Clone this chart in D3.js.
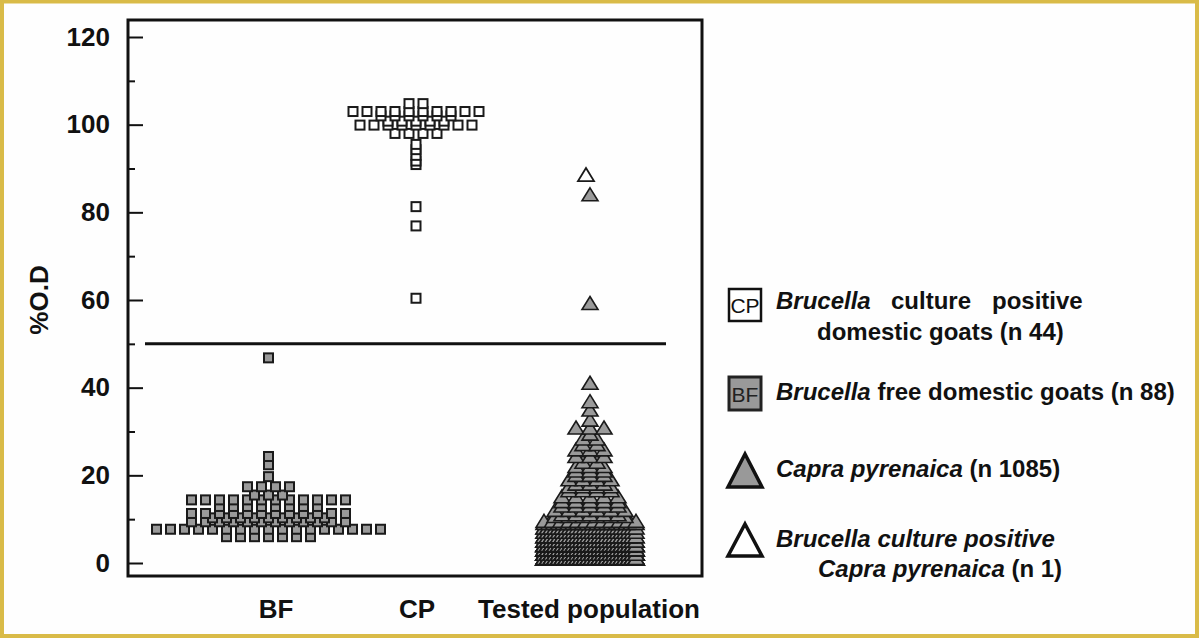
<!DOCTYPE html>
<html><head><meta charset="utf-8">
<script src="https://cdn.jsdelivr.net/npm/d3@7"></script>
<style>
body{margin:0;background:#fff}
svg{display:block}
text{font-family:"Liberation Sans",Arial,Helvetica,sans-serif}
</style>
</head><body>
<svg id="c" width="1200" height="638"></svg>
<script>
// ---------- data ----------
const categories = ["BF", "CP", "Tested population"];
const yTicks = [0, 20, 40, 60, 80, 100, 120];
const yMinorTicks = [10, 30, 50, 70, 90, 110];
const threshold = 50;

// Brucella free domestic goats (n 88): value levels and number of animals at each level
const bfLevels = [46.8, 24.3, 22.4, 19.7, 17.4, 15.5, 14.4, 12.9, 11.3, 10.3, 9.4, 7.7, 6.0];
const bfCounts = [1, 1, 1, 1, 4, 3, 12, 8, 12, 9, 12, 17, 7];

// Brucella culture positive domestic goats (n 44)
const cpLevels = [104.8, 103.0, 102.0, 100.8, 99.9, 98.0, 95.5, 94.3, 93.0, 91.7, 90.9, 81.3, 76.9, 60.4];
const cpCounts = [2, 10, 6, 5, 9, 4, 1, 1, 1, 1, 1, 1, 1, 1];

// Capra pyrenaica tested population (n 1085)
const tpLevels = [84.0, 59.2, 41.0, 36.8, 34.9, 32.6, 30.8, 29.4, 28.3, 27.0, 25.8, 24.3, 23.0, 22.0, 21.0, 20.0,
                  19.0, 18.0, 17.4, 16.5, 15.1, 14.0, 13.0, 12.0, 11.0, 10.6, 9.5, 9.0, 8.0, 7.0, 6.0, 5.0, 4.0, 3.0, 2.0, 1.0];
const tpCounts = [1, 1, 1, 1, 1, 1, 3, 1, 2, 2, 3, 3, 2, 3, 3, 3,
                  4, 3, 4, 4, 5, 5, 5, 6, 5, 6, 12, 20, 35, 50, 70, 100, 140, 170, 200, 210];

// Brucella culture positive Capra pyrenaica (n 1)
const tpPosLevels = [88.5];
const tpPosCounts = [1];

// ---------- layout ----------
const svg = d3.select("#c");
const W = 1200, H = 638;
const box = {left: 128, right: 702, top: 20, bottom: 576};

svg.append("rect").attr("x", 0).attr("y", 0).attr("width", W).attr("height", H).attr("fill", "#fefefe");
svg.append("rect").attr("x", 2).attr("y", 1.5).attr("width", W - 5).attr("height", H - 3.5)
  .attr("fill", "none").attr("stroke", "#d9bb48").attr("stroke-width", 4);

const y = d3.scaleLinear().domain([0, 120]).range([563, 37]);
const x = d3.scaleOrdinal().domain(categories).range([268.5, 416, 590]);
const xLabel = d3.scaleOrdinal().domain(categories).range([276, 417, 589]);

// frame
svg.append("rect").attr("x", box.left).attr("y", box.top)
  .attr("width", box.right - box.left).attr("height", box.bottom - box.top)
  .attr("fill", "none").attr("stroke", "#111").attr("stroke-width", 3);

// y axis
const gy = svg.append("g").attr("transform", `translate(${box.left},0)`)
  .call(d3.axisLeft(y).tickValues(yTicks).tickSizeInner(-15).tickSizeOuter(0).tickPadding(18));
gy.select(".domain").remove();
gy.selectAll(".tick line").attr("stroke", "#111").attr("stroke-width", 2);
gy.selectAll(".tick text").attr("font-size", 26).attr("font-weight", "bold").attr("fill", "#111");

const gy2 = svg.append("g").attr("transform", `translate(${box.left},0)`)
  .call(d3.axisLeft(y).tickValues(yMinorTicks).tickSizeInner(-7).tickSizeOuter(0).tickFormat(""));
gy2.select(".domain").remove();
gy2.selectAll(".tick line").attr("stroke", "#111").attr("stroke-width", 2);

svg.append("text").attr("transform", `translate(48,${y(60)}) rotate(-90)`)
  .attr("text-anchor", "middle").attr("font-size", 26).attr("font-weight", "bold").attr("fill", "#111")
  .text("%O.D");

// x labels
svg.append("g").selectAll("text").data(categories).join("text")
  .attr("x", d => xLabel(d)).attr("y", 618).attr("text-anchor", "middle")
  .attr("font-size", 26).attr("font-weight", "bold").attr("fill", "#111").text(d => d);

// threshold line
svg.append("line").attr("x1", 145).attr("x2", 666).attr("y1", y(threshold)).attr("y2", y(threshold))
  .attr("stroke", "#111").attr("stroke-width", 3);

// ---------- marks ----------
// rows of equal value are centred on the category; very full rows are packed into
// a limited number of slots, so that coincident marks overlap exactly
function expand(levels, counts, cat, spacing, maxSpan, minSpacing) {
  const out = [];
  levels.forEach((v, i) => {
    const n = counts[i];
    let slots = n, s = 0;
    if (n > 1) {
      s = Math.min(spacing, maxSpan / (n - 1));
      if (s < minSpacing) {
        slots = Math.floor(maxSpan / minSpacing) + 1;
        s = maxSpan / (slots - 1);
      }
    }
    for (let k = 0; k < n; k++) {
      const slot = k % slots;
      out.push({value: v, cat, slot, off: (slot - (slots - 1) / 2) * s});
    }
  });
  return out.sort((a, b) => a.value - b.value || a.slot - b.slot);
}

const bf = expand(bfLevels, bfCounts, "BF", 14, 1000, 1);
const cp = expand(cpLevels, cpCounts, "CP", 14, 1000, 1);
const tp = expand(tpLevels, tpCounts, "Tested population", 14, 92, 3.6);
const tpPos = expand(tpPosLevels, tpPosCounts, "Tested population", 14, 92, 3.6);

svg.append("g").selectAll("rect").data(bf).join("rect")
  .attr("x", d => x(d.cat) + d.off - 4.5).attr("y", d => y(d.value) - 4.5)
  .attr("width", 9).attr("height", 9)
  .attr("fill", "#9a9a9a").attr("stroke", "#1a1a1a").attr("stroke-width", 2);

svg.append("g").selectAll("rect").data(cp).join("rect")
  .attr("x", d => x(d.cat) + d.off - 4.5).attr("y", d => y(d.value) - 4.5)
  .attr("width", 9).attr("height", 9)
  .attr("fill", "#fff").attr("stroke", "#1a1a1a").attr("stroke-width", 2);

const tri = (cx, cy) => `M${cx},${cy - 7}L${cx + 8},${cy + 6}L${cx - 8},${cy + 6}Z`;
svg.append("g").selectAll("path").data(tp).join("path")
  .attr("d", d => tri(x(d.cat) + d.off, y(d.value)))
  .attr("fill", "#9a9a9a").attr("stroke", "#1a1a1a").attr("stroke-width", 1.6);
svg.append("g").selectAll("path").data(tpPos).join("path")
  .attr("d", d => tri(x(d.cat) + d.off - 4, y(d.value)))
  .attr("fill", "#fff").attr("stroke", "#1a1a1a").attr("stroke-width", 1.8);

// ---------- legend ----------
const lg = svg.append("g").attr("fill", "#111");
lg.append("rect").attr("x", 729).attr("y", 289).attr("width", 32).attr("height", 32)
  .attr("fill", "#fff").attr("stroke", "#111").attr("stroke-width", 2.5);
lg.append("text").attr("x", 745).attr("y", 313).attr("text-anchor", "middle").attr("font-size", 21).text("CP");
lg.append("rect").attr("x", 729).attr("y", 377).attr("width", 32).attr("height", 33)
  .attr("fill", "#999").attr("stroke", "#222").attr("stroke-width", 3);
lg.append("text").attr("x", 745).attr("y", 402).attr("text-anchor", "middle").attr("font-size", 21).attr("fill", "#222").text("BF");
lg.append("path").attr("d", "M745,454L762,487L728,487Z").attr("fill", "#999").attr("stroke", "#111").attr("stroke-width", 3.5);
lg.append("path").attr("d", "M745,524L762,556L728,556Z").attr("fill", "#fff").attr("stroke", "#111").attr("stroke-width", 3.5);

function line(xp, yp, parts) {
  const t = lg.append("text").attr("x", xp).attr("y", yp).attr("font-size", 24).attr("font-weight", "bold");
  parts.forEach(p => {
    const s = t.append("tspan").text(p.t);
    if (p.i) s.attr("font-style", "italic");
    if (p.x !== undefined) s.attr("x", p.x);
  });
}
line(776, 309, [{t: "Brucella", i: true}, {t: "culture", x: 891}, {t: "positive", x: 992}]);
line(817, 340, [{t: "domestic goats (n 44)"}]);
line(776, 400, [{t: "Brucella", i: true}, {t: " free domestic goats (n 88)"}]);
line(776, 477, [{t: "Capra pyrenaica", i: true}, {t: " (n 1085)"}]);
line(776, 547, [{t: "Brucella culture positive", i: true}]);
line(818, 577, [{t: "Capra pyrenaica", i: true}, {t: " (n 1)"}]);
</script>
</body></html>
